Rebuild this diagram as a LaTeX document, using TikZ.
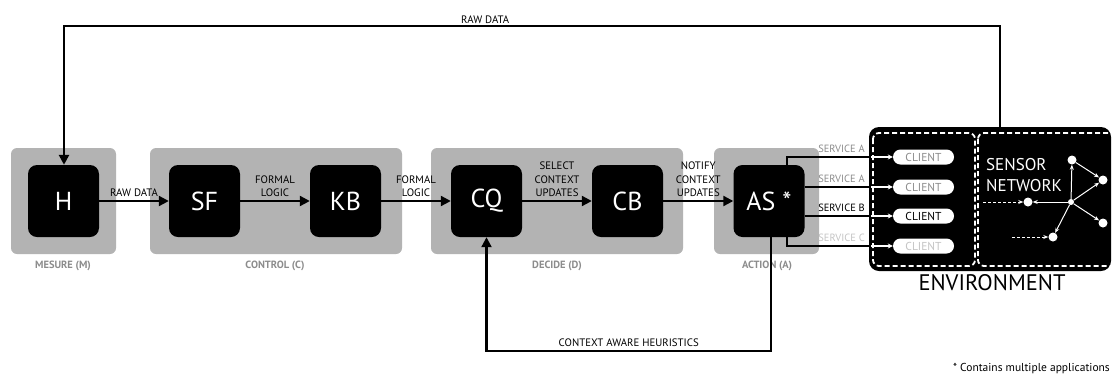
\documentclass[tikz,border=0pt]{standalone}
\usepackage{fontspec}
\setmainfont{PT Sans}
\usetikzlibrary{arrows.meta,shapes.misc}

\definecolor{groupgray}{HTML}{B3B3B3}
\definecolor{labelgray}{HTML}{8C8C8C}
\definecolor{palegray}{HTML}{C4C4C4}

\begin{document}
\begin{tikzpicture}[x=1pt,y=-1pt,
  block/.style={fill=black, rounded corners=9pt, minimum width=71pt, minimum height=72pt, inner sep=0pt, text=white, font=\fontsize{26}{30}\selectfont},
  grp/.style={fill=groupgray, rounded corners=6pt},
  grplabel/.style={text=labelgray, font=\fontsize{10.5}{12}\selectfont\bfseries},
  flow/.style={line width=2.2pt, -{Triangle[length=10pt,width=10pt]}},
  lbl/.style={font=\fontsize{10.8}{13.5}\selectfont, align=center, above, inner sep=3pt},
  client/.style={rounded rectangle, fill=white, minimum width=61pt, minimum height=15pt, inner sep=0pt, font=\fontsize{11.5}{12}\selectfont},
  svc/.style={font=\fontsize{10.5}{12}\selectfont, anchor=south east, inner sep=1pt},
  wire/.style={line width=1.6pt},
  wwire/.style={white, line width=1.3pt, -{Stealth[length=5pt,width=5pt]}},
  dot/.style={circle, fill=white, minimum size=9pt, inner sep=0pt},
  link/.style={white, line width=1pt, -{Stealth[length=5pt,width=4pt]}},
  envdash/.style={white, line width=1.8pt, dash pattern=on 5pt off 3pt, rounded corners=6pt}
]
\useasboundingbox (0,0) rectangle (1112,376);

% Groups
\fill[grp] (11,148) rectangle (116,254);
\fill[grp] (150,148) rectangle (402,254);
\fill[grp] (431,148) rectangle (683,254);
\fill[grp] (714,148) rectangle (819,254);
\node[grplabel] (mlabel) at (63,266) {MESURE (M)};
\node[grplabel] (clabel) at (275,266) {CONTROL (C)};
\node[grplabel] (dlabel) at (557,266) {DECIDE (D)};
\node[grplabel] (alabel) at (767,266) {ACTION (A)};

% Blocks
\node[block] (H) at (63.5,201) {H};
\node[block] (SF) at (204.5,201) {SF};
\node[block] (KB) at (345.5,201) {KB};
\node[block] (CQ) at (486.5,201) {CQ};
\node[block] (CB) at (627.5,201) {CB};
\node[block] (AS) at (769,201) {AS *};

% Main chain
\draw[flow] (H) -- node[lbl] (l1) {RAW DATA} (SF);
\draw[flow] (SF) -- node[lbl] (l2) {FORMAL\\LOGIC} (KB);
\draw[flow] (KB) -- node[lbl] (l3) {FORMAL\\LOGIC} (CQ);
\draw[flow] (CQ) -- node[lbl] (l4) {SELECT\\CONTEXT\\UPDATES} (CB);
\draw[flow] (CB) -- node[lbl] (l5) {NOTIFY\\CONTEXT\\UPDATES} (AS);

% Environment
\node[fill=black, rounded corners=10pt, minimum width=242pt, minimum height=144pt, inner sep=0pt] (env) at (990,199) {};
\draw[envdash] (873,133) rectangle (975,266);
\draw[envdash] (978,133) rectangle (1125,266);
\node[font=\fontsize{22.5}{24}\selectfont] (envlabel) at (992,283) {ENVIRONMENT};

% Clients
\node[client, text=labelgray] (c1) at (923.5,157) {CLIENT};
\node[client, text=labelgray] (c2) at (923.5,187) {CLIENT};
\node[client] (c3) at (923.5,216) {CLIENT};
\node[client, text=palegray] (c4) at (923.5,246) {CLIENT};

% Services
\coordinate (e1) at (871,157);
\coordinate (e2) at (871,187);
\coordinate (e3) at (871,216);
\coordinate (e4) at (871,246);
\draw[wire] (AS.north) ++(18,0) |- (e1);
\draw[wire] (AS.east |- e2) -- (e2);
\draw[wire] (AS.east |- e3) -- (e3);
\draw[wire] (AS.south) ++(18,0) |- (e4);
\draw[wwire] (e1) -- (c1);
\draw[wwire] (e2) -- (c2);
\draw[wwire] (e3) -- (c3);
\draw[wwire] (e4) -- (c4);
\node[svc, text=labelgray] (s1) at (866,154) {SERVICE A};
\node[svc, text=labelgray] (s2) at (866,184) {SERVICE A};
\node[svc] (s3) at (866,213) {SERVICE B};
\node[svc, text=palegray] (s4) at (866,243) {SERVICE C};

% Sensor network
\node[anchor=north west, align=left, inner sep=0pt, text=white, font=\fontsize{17}{21}\selectfont] (sn) at (986,158) {SENSOR\\NETWORK};
\node[dot] (ntop) at (1072,160) {};
\node[dot] (nru) at (1103,180) {};
\node[dot, minimum size=6pt] (hub) at (1071,202) {};
\node[dot] (nleft) at (1028,202) {};
\node[dot] (nrd) at (1103,223) {};
\node[dot] (nbl) at (1053,237) {};
\draw[link] (hub) -- (ntop);
\draw[link] (ntop) -- (nru);
\draw[link] (hub) -- (nru);
\draw[link] (hub) -- (nrd);
\draw[link] (hub) -- (nleft);
\draw[link] (hub) -- (nbl);
\coordinate (in1) at (983,202);
\coordinate (in2) at (1012,237);
\draw[link, dash pattern=on 3pt off 2pt] (in1) -- (nleft);
\draw[link, dash pattern=on 3pt off 2pt] (in2) -- (nbl);

% Feedback loops
\coordinate (tr) at (1000,26);
\coordinate (tl) at (64,26);
\draw[flow, line width=2.6pt] (env.north -| tr) -- (tr) -- node[lbl, pos=0.55, inner sep=1.5pt] (l6) {RAW DATA} (tl) -- (H.north -| tl);
\coordinate (br) at (771,351);
\coordinate (bl) at (486.5,351);
\draw[flow] (AS.south -| br) -- (br) -- node[lbl] (l7) {CONTEXT AWARE HEURISTICS} (bl) -- (CQ.south);

% Note
\node[anchor=east, font=\fontsize{11.5}{13}\selectfont, inner sep=1pt] (note) at (1111,369) {* Contains multiple applications};
\end{tikzpicture}
\end{document}
